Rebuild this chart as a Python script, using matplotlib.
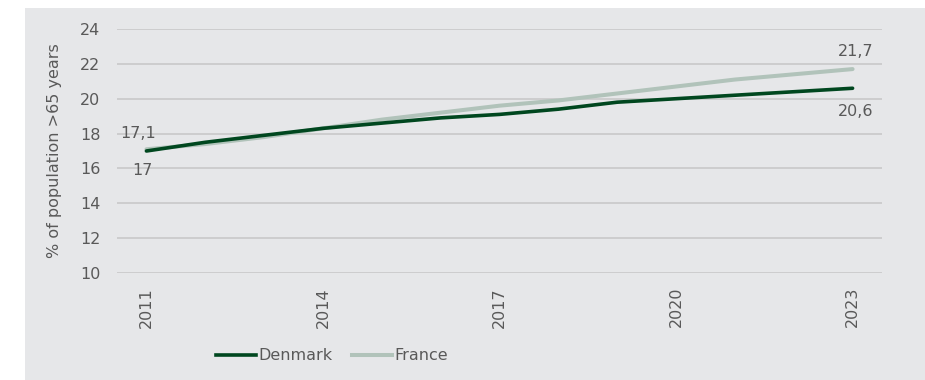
import matplotlib
matplotlib.use("Agg")
import matplotlib.pyplot as plt
from matplotlib.patches import Rectangle
from matplotlib.lines import Line2D

years = ["2011", "2012", "2013", "2014", "2015", "2016", "2017",
         "2018", "2019", "2020", "2021", "2022", "2023"]
denmark = [17.0, 17.5, 17.9, 18.3, 18.6, 18.9, 19.1, 19.4, 19.8, 20.0, 20.2, 20.4, 20.6]
france = [17.1, 17.4, 17.8, 18.3, 18.8, 19.2, 19.6, 19.9, 20.3, 20.7, 21.1, 21.4, 21.7]
shown_years = ["2011", "2014", "2017", "2020", "2023"]
y_ticks = [10, 12, 14, 16, 18, 20, 22, 24]

DK_COLOR = "#00471f"
FR_COLOR = "#b1c3ba"
PANEL = "#e6e7e9"
TEXT = "#595959"
GRID = "#c6c6c6"
FS = 11.5

W, H = 925, 380
fig = plt.figure(figsize=(W / 100, H / 100), dpi=100)
fig.patch.set_facecolor("white")
fig.patches.append(Rectangle((25 / W, 0), 1 - 25 / W, 1 - 8 / H,
                             transform=fig.transFigure, facecolor=PANEL,
                             edgecolor="none", zorder=-5))

ax = fig.add_axes([117 / W, 1 - 273 / H, (882 - 117) / W, (273 - 29) / H])
ax.set_zorder(2)
ax.set_facecolor("none")

x = list(range(len(years)))
ax.plot(x, france, color=FR_COLOR, lw=2.9, solid_capstyle="round", zorder=3)
ax.plot(x, denmark, color=DK_COLOR, lw=2.6, solid_capstyle="round", zorder=4)

ax.set_xlim(-0.5, len(years) - 0.5)
ax.set_ylim(10, 24)
ax.set_yticks(y_ticks)
ax.set_yticklabels([str(v) for v in y_ticks])
tick_pos = [years.index(y) for y in shown_years]
ax.set_xticks(tick_pos)
ax.set_xticklabels(shown_years, rotation=90)
ax.tick_params(axis="both", length=0, colors=TEXT, labelsize=FS)
ax.tick_params(axis="y", pad=12)
ax.tick_params(axis="x", pad=10)
ax.grid(axis="y", color=GRID, lw=1.1)
ax.set_axisbelow(True)
for s in ax.spines.values():
    s.set_visible(False)

fig.text(55 / W, 1 - 151 / H, "% of population >65 years", rotation=90,
         ha="center", va="center", color=TEXT, fontsize=FS)

# End-point value labels
lbl = dict(textcoords="offset pixels", ha="center", va="center",
           color=TEXT, fontsize=FS)
ax.annotate(f"{france[0]:.1f}".replace(".", ","), (0, france[0]), xytext=(-8, 16), **lbl)
ax.annotate(f"{denmark[0]:g}".replace(".", ","), (0, denmark[0]), xytext=(-4, -20), **lbl)
ax.annotate(f"{france[-1]:.1f}".replace(".", ","), (x[-1], france[-1]), xytext=(3, 18), **lbl)
ax.annotate(f"{denmark[-1]:.1f}".replace(".", ","), (x[-1], denmark[-1]), xytext=(3, -23), **lbl)

handles = [Line2D([], [], color=DK_COLOR, lw=2.6),
           Line2D([], [], color=FR_COLOR, lw=2.9)]
fig.legend(handles, ["Denmark", "France"], loc="center",
           bbox_to_anchor=(332 / W, 1 - 356 / H), ncol=2, frameon=False,
           handlelength=2.5, handletextpad=0.15, columnspacing=1.2,
           fontsize=FS, labelcolor=TEXT, borderaxespad=0, borderpad=0)

fig.savefig("out.png", dpi=100)
